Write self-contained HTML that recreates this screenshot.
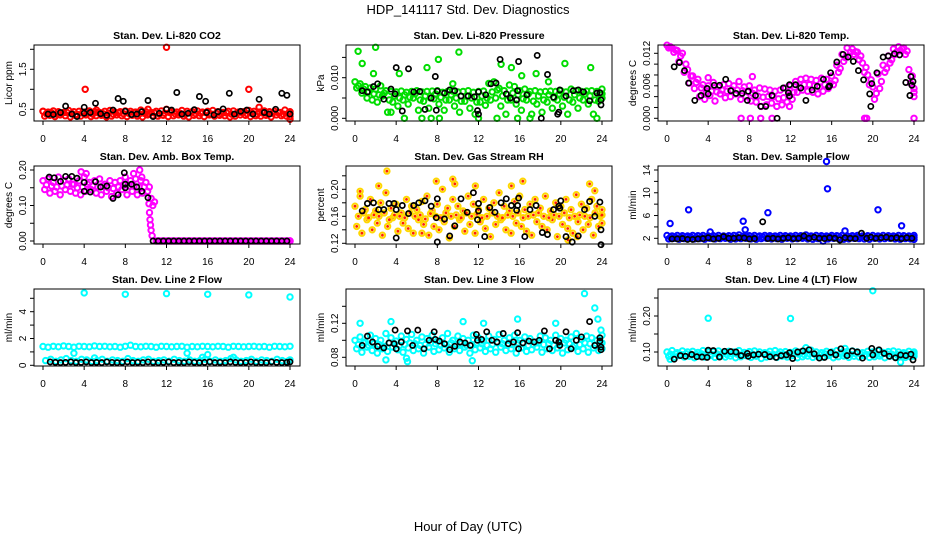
<!DOCTYPE html>
<html><head><meta charset="utf-8"><style>
body{margin:0;background:#fff;}
svg text{font-family:"Liberation Sans",sans-serif;}
</style></head><body>
<svg id="c" width="936" height="540" viewBox="0 0 936 540" xmlns="http://www.w3.org/2000/svg">
<text x="468" y="14" text-anchor="middle" font-size="13">HDP_141117  Std. Dev. Diagnostics</text>
<text x="468" y="531" text-anchor="middle" font-size="13">Hour of Day (UTC)</text>
</svg>
<script>
// ---- data ----
const xTicks = [0,4,8,12,16,20,24];
const titles = ["Stan. Dev. Li-820 CO2","Stan. Dev. Li-820 Pressure","Stan. Dev. Li-820 Temp.","Stan. Dev. Amb. Box Temp.","Stan. Dev. Gas Stream RH","Stan. Dev. Sample Flow","Stan. Dev. Line 2 Flow","Stan. Dev. Line 3 Flow","Stan. Dev. Line 4 (LT) Flow"];
const yTitles = ["Licor ppm","kPa","degrees C","degrees C","percent","ml/min","ml/min","ml/min","ml/min"];
const yTickVals = [[0.5,1,1.5,2],[0,0.005,0.01,0.015],[0,0.002,0.004,0.006,0.008,0.01,0.012],[0,0.05,0.1,0.15,0.2],[0.12,0.14,0.16,0.18,0.2,0.22],[2,4,6,8,10,12,14],[0,1,2,3,4,5],[0.08,0.1,0.12,0.14],[0.1,0.15,0.2,0.25]];
const yTickLabels = [["0.5","","1.5",""],["0.000","","0.010",""],["0.000","","","0.006","","","0.012"],["0.00","","0.10","","0.20"],["0.12","","0.16","","0.20",""],["2","","6","","10","","14"],["0","","2","","4",""],["0.08","","0.12",""],["0.10","","0.20",""]];

// CO2
const co2A=[0.45,0.43,0.46,0.44,0.42,0.47,0.44,0.45,0.43,0.46,0.44,0.42,0.45,0.47,0.43,0.44,0.46,0.45,0.43,0.48,0.44,0.42,0.45,0.46,0.5,0.44,0.43,0.47,0.45,0.44,0.46,0.43,0.45,0.47,0.44,0.42,0.45,0.46,0.43,0.44,0.47,0.45,0.43,0.46,0.44,0.45,0.42,0.48,0.44];
const co2B=[0.33,0.35,0.32,0.36,0.34,0.31,0.35,0.33,0.36,0.32,0.34,0.35,0.31,0.33,0.36,0.34,0.32,0.35,0.33,0.31,0.36,0.34,0.33,0.35,0.32,0.34,0.36,0.33,0.31,0.35,0.34,0.32,0.36,0.33,0.35,0.34,0.31,0.33,0.36,0.35,0.32,0.34,0.33,0.35,0.31,0.36,0.34,0.33,0.32];
const co2C=[0.39,0.41,0.38,0.4,0.42,0.39,0.37,0.41,0.4,0.38,0.42,0.39,0.4,0.38,0.41,0.39,0.4,0.42,0.38,0.4,0.39,0.41,0.38,0.4,0.42,0.39,0.4,0.38,0.41,0.39,0.4,0.42,0.38,0.4,0.39,0.41,0.38,0.4,0.42,0.39,0.4,0.38,0.41,0.39,0.4,0.42,0.38,0.4,0.39];
const co2XH=[0,4.1,12,20,21,24,10.2,5.2];
const co2XV=[0.45,1.0,2.05,1.0,0.55,0.25,0.5,0.48];
const co2KH=[0.5,1,1.7,2.2,2.8,3.3,4,4,4.6,5.1,5.6,6.2,6.8,7.3,7.8,8,8.6,9.1,9.6,10.2,10.7,11.3,12,12.5,13,13.5,14.1,14.7,15.2,15.8,15.9,16.6,17,17.5,18.1,18.6,19.2,19.8,20.4,21,21.5,22,22.6,23.2,23.7,24];
const co2KV=[0.38,0.37,0.42,0.58,0.38,0.32,0.4,0.55,0.42,0.65,0.39,0.35,0.48,0.77,0.7,0.45,0.37,0.38,0.44,0.72,0.32,0.4,0.5,0.48,0.92,0.38,0.4,0.49,0.82,0.7,0.42,0.36,0.44,0.51,0.9,0.38,0.45,0.48,0.38,0.75,0.42,0.38,0.5,0.9,0.85,0.38];
// Pressure
const prA=[0.009,0.0085,0.0078,0.0075,0.0072,0.008,0.0068,0.0066,0.0065,0.0067,0.0064,0.0066,0.0068,0.0065,0.0066,0.0067,0.0068,0.0064,0.0066,0.0067,0.0065,0.0066,0.0068,0.0064,0.0066,0.0067,0.0086,0.009,0.0074,0.0068,0.0082,0.0078,0.0068,0.0072,0.0066,0.0068,0.0065,0.0066,0.0067,0.0066,0.0068,0.0065,0.0072,0.0068,0.0066,0.0067,0.0068,0.0066,0.0072];
const prB=[0.0075,0.0062,0.005,0.0045,0.004,0.0055,0.0015,0.004,0.003,0.0045,0.0035,0.005,0.002,0.0042,0.0025,0.0048,0.0035,0.002,0.0045,0.003,0.0015,0.0042,0.0025,0.001,0.004,0.0032,0.0045,0.005,0.003,0.001,0.0045,0.0035,0.002,0.0045,0.001,0.0035,0.0015,0.004,0.0025,0.0045,0.003,0.001,0.004,0.0025,0.0045,0.0035,0.001,0.0042,0.005];
const prC=[0.008,0.0072,0.0065,0.006,0.0058,0.0062,0.0045,0.0055,0.005,0.0058,0.0052,0.006,0.0045,0.0055,0.005,0.006,0.0052,0.0045,0.0058,0.005,0.0042,0.0055,0.005,0.004,0.0055,0.005,0.0065,0.007,0.0055,0.0045,0.0062,0.0058,0.0048,0.006,0.0042,0.0055,0.0045,0.0058,0.005,0.006,0.0052,0.0045,0.0058,0.005,0.006,0.0055,0.0045,0.0058,0.006];
const prXH=[0.3,0.7,2,4.3,7,8.1,9.5,10.1,14.2,15.2,16.2,17.6,18.8,20.4,22.9,3.5,4.8,6.5,7.4,8.2,12,13.8,15.8,17,23.5,1.8];
const prXV=[0.0165,0.0135,0.0175,0.011,0.0125,0.0145,0.0085,0.0163,0.0133,0.0125,0.0105,0.011,0.009,0.0135,0.0125,0.0015,0,0,0,0,0,0,0,0,0,0.011];
const prKH=[0.7,1.2,1.8,2.2,2.8,3.5,3.9,4,4.6,5.2,5.7,6.3,6.8,7.4,7.8,7.9,8,8.7,9.2,9.7,10.3,11,11.6,11.9,12,12,12.7,13.2,13.7,14.1,14.7,15.1,15.7,15.8,15.9,16.7,17.7,18.1,18.7,19.3,19.7,19.8,19.9,20.5,21.2,21.7,22.2,22.8,23.5,23.8,23.9,23.9];
const prKV=[0.0068,0.0065,0.0078,0.0085,0.0047,0.0072,0.006,0.0125,0.0018,0.0122,0.0065,0.0066,0.0022,0.005,0.0103,0.002,0.0067,0.0062,0.007,0.0068,0.0055,0.0055,0.0053,0.0019,0.001,0.0065,0.0058,0.0085,0.0087,0.0145,0.006,0.005,0.0045,0.0068,0.014,0.0058,0.0155,0,0.0108,0.0052,0.001,0.0015,0.007,0.0055,0.0068,0.007,0.0065,0.0043,0.0062,0.0063,0.0045,0.0033];
// Li-820 Temp
const tmA=[0.0135,0.013,0.0125,0.012,0.009,0.0078,0.0072,0.0062,0.006,0.0066,0.0058,0.0062,0.0064,0.006,0.0068,0.0058,0.006,0.0052,0.0056,0.0054,0.0052,0.005,0.0052,0.0056,0.006,0.0068,0.0072,0.0074,0.0072,0.007,0.0074,0.0072,0.0078,0.0098,0.0118,0.013,0.0128,0.0122,0.0102,0.008,0.0058,0.0082,0.0098,0.0115,0.0128,0.0132,0.013,0.009,0.0055];
const tmB=[0.013,0.0122,0.0105,0.0085,0.0065,0.0055,0.004,0.0035,0.0042,0.0032,0.0045,0.0038,0.004,0.0045,0.0035,0.004,0.0032,0.003,0.0022,0.0025,0.0028,0.0022,0.0025,0.003,0.0035,0.0048,0.0052,0.005,0.0048,0.0045,0.005,0.0055,0.0062,0.0085,0.0105,0.0115,0.0118,0.0108,0.0085,0.0062,0.0035,0.0055,0.0085,0.0102,0.0118,0.0125,0.0118,0.0065,0.004];
const tmC=[0.0132,0.0126,0.0115,0.01,0.0078,0.0066,0.0056,0.0048,0.005,0.0049,0.0052,0.005,0.0052,0.0052,0.0051,0.0049,0.0046,0.0041,0.0039,0.004,0.004,0.0036,0.0038,0.0043,0.0048,0.0058,0.0062,0.0062,0.006,0.0058,0.0062,0.0064,0.007,0.0092,0.0112,0.0122,0.0123,0.0115,0.0094,0.0071,0.0046,0.0068,0.0092,0.0108,0.0123,0.0128,0.0124,0.0078,0.0048];
const tmXH=[7.2,8.1,9.1,10.2,19.2,19.4,24,4,8.3,11.9];
const tmXV=[0,0,0,0,0,0,0,0.0075,0.0077,0.0022];
const tmKH=[0.7,1.2,1.7,2.1,2.7,3.3,3.9,4,4.6,5.1,5.7,6.2,6.7,7.3,7.8,7.9,8.6,9.1,9.6,10.2,10.7,11.3,11.8,11.9,11.9,12.5,13,13.5,14.1,14.6,15.2,15.7,15.8,15.9,16.5,17.1,17.6,18.1,18.6,19.1,19.7,19.8,19.9,20.4,21,21.5,22.1,22.6,23.2,23.6,23.7,23.8,23.9];
const tmKV=[0.0095,0.0103,0.0088,0.0065,0.0033,0.0042,0.0055,0.0045,0.0061,0.0061,0.0072,0.0051,0.0046,0.0046,0.0033,0.005,0.0042,0.0022,0.0022,0.0042,0,0.0056,0.0047,0.0041,0.0062,0.0062,0.0056,0.0033,0.0052,0.0059,0.0072,0.0058,0.006,0.0084,0.0104,0.0118,0.0113,0.0105,0.0088,0.0071,0.0045,0.0022,0.0064,0.0084,0.0113,0.0115,0.0119,0.0117,0.0066,0.0042,0.0077,0.0061,0.0068];
// Amb box temp
const abA=[0.17,0.175,0.165,0.18,0.17,0.175,0.16,0.17,0.18,0.165,0.17,0.175,0.16,0.17,0.165,0.17,0.18,0.17,0.175,0.17,0.165,0.12,0,0,0,0,0,0,0,0,0,0,0,0,0,0,0,0,0,0,0,0,0,0,0,0,0,0,0];
const abB=[0.145,0.135,0.14,0.13,0.145,0.14,0.135,0.13,0.14,0.145,0.135,0.13,0.14,0.125,0.135,0.145,0.13,0.14,0.13,0.135,0.14,0.1,0,0,0,0,0,0,0,0,0,0,0,0,0,0,0,0,0,0,0,0,0,0,0,0,0,0,0];
const abC=[0.158,0.155,0.152,0.155,0.158,0.16,0.15,0.152,0.16,0.155,0.152,0.155,0.15,0.148,0.152,0.158,0.155,0.155,0.152,0.152,0.152,0.11,0,0,0,0,0,0,0,0,0,0,0,0,0,0,0,0,0,0,0,0,0,0,0,0,0,0,0];
const abXH=[10.3,10.35,10.4,10.45,10.5,10.6,9.4,3.7,4.2,8.8,9.6];
const abXV=[0.105,0.08,0.06,0.045,0.03,0.015,0.2,0.195,0.19,0.19,0.18];
const abKH=[0.6,1.1,1.7,2.2,2.8,3.3,4,4,4.6,5.1,5.6,6.2,6.8,7.3,7.9,8,8,8.6,9.1,9.6,10.2,10.7,11.2,11.7,12.2,12.7,13.2,13.7,14.2,14.7,15.2,15.7,16.2,16.7,17.2,17.7,18.2,18.7,19.2,19.7,20.2,20.7,21.2,21.7,22.2,22.7,23.2,23.7];
const abKV=[0.18,0.178,0.168,0.182,0.182,0.177,0.165,0.14,0.138,0.167,0.152,0.155,0.12,0.13,0.192,0.15,0.16,0.16,0.152,0.14,0.122,0,0,0,0,0,0,0,0,0,0,0,0,0,0,0,0,0,0,0,0,0,0,0,0,0,0,0];
// RH
const rhA=[0.175,0.19,0.17,0.185,0.168,0.18,0.195,0.172,0.178,0.165,0.185,0.175,0.17,0.182,0.19,0.168,0.178,0.2,0.172,0.185,0.175,0.168,0.19,0.178,0.17,0.185,0.172,0.18,0.195,0.175,0.168,0.182,0.19,0.17,0.178,0.185,0.172,0.19,0.168,0.18,0.175,0.185,0.17,0.192,0.178,0.172,0.185,0.175,0.17];
const rhB=[0.145,0.135,0.155,0.14,0.15,0.132,0.145,0.158,0.138,0.15,0.142,0.135,0.155,0.148,0.132,0.145,0.14,0.152,0.128,0.145,0.155,0.138,0.148,0.135,0.152,0.142,0.13,0.148,0.155,0.14,0.135,0.15,0.145,0.138,0.132,0.152,0.145,0.14,0.155,0.13,0.148,0.142,0.135,0.152,0.14,0.148,0.132,0.145,0.15];
const rhC=[0.16,0.165,0.158,0.162,0.16,0.165,0.155,0.162,0.16,0.158,0.165,0.16,0.162,0.156,0.164,0.16,0.158,0.165,0.16,0.162,0.158,0.165,0.16,0.163,0.158,0.16,0.165,0.16,0.158,0.162,0.16,0.165,0.158,0.16,0.162,0.165,0.16,0.158,0.162,0.16,0.165,0.158,0.16,0.162,0.16,0.158,0.165,0.16,0.162];
const rhXH=[3.1,2.3,7.9,9.5,9.7,11.7,15.2,16.3,20.7,22.8,23.3,0.5,6.5,21.6];
const rhXV=[0.227,0.205,0.212,0.215,0.208,0.205,0.205,0.212,0.125,0.208,0.198,0.197,0.135,0.13];
const rhKH=[0.7,1.2,1.8,2.3,2.8,3.3,3.8,4,4,4.6,5.2,5.7,6.2,6.8,7.4,7.9,8,8,8.7,9.2,9.7,10.3,10.9,11.5,11.9,12,12,12.6,13.1,13.6,14.2,14.7,15.2,15.7,15.8,15.9,16.5,17,17.6,18.2,18.7,19.3,19.8,19.9,20,20.5,21.1,21.7,22.3,22.8,23.3,23.8,23.9,23.9];
const rhKV=[0.168,0.179,0.18,0.17,0.17,0.179,0.179,0.17,0.128,0.176,0.164,0.176,0.18,0.183,0.175,0.158,0.186,0.122,0.156,0.131,0.146,0.186,0.166,0.195,0.155,0.179,0.168,0.13,0.173,0.166,0.18,0.186,0.176,0.169,0.176,0.187,0.13,0.17,0.176,0.136,0.133,0.17,0.175,0.172,0.183,0.13,0.122,0.131,0.17,0.182,0.16,0.181,0.14,0.118];
// Sample flow
const sfA=[2.5,2.4,2.5,2.45,2.4,2.5,2.45,2.5,2.4,2.45,2.5,2.4,2.45,2.5,2.6,2.4,2.45,2.5,2.4,2.5,2.45,2.4,2.5,2.45,2.4,2.5,2.45,2.6,2.4,2.5,2.45,2.4,2.5,2.45,2.5,2.4,2.45,2.5,2.4,2.45,2.5,2.4,2.5,2.45,2.4,2.5,2.45,2.4,2.5];
const sfB=[1.9,2.0,1.85,1.95,2.0,1.9,1.95,1.85,2.0,1.9,1.95,2.0,1.85,1.9,1.95,2.0,1.9,1.85,1.95,2.0,1.9,1.95,1.85,2.0,1.9,1.95,2.0,1.9,1.85,1.95,1.5,1.9,2.0,1.95,1.85,1.9,2.0,1.95,1.9,1.85,2.0,1.9,1.95,2.0,1.9,1.85,1.95,1.9,1.8];
const sfC=[2.2,2.15,2.2,2.25,2.2,2.15,2.2,2.2,2.25,2.15,2.2,2.2,2.15,2.2,2.25,2.2,2.15,2.2,2.2,2.25,2.2,2.15,2.2,2.2,2.15,2.25,2.2,2.2,2.15,2.2,2.2,2.25,2.2,2.15,2.2,2.2,2.25,2.2,2.15,2.2,2.2,2.15,2.25,2.2,2.2,2.15,2.2,2.2,2.15];
const sfXH=[0.3,2.1,4.2,7.4,7.6,9.8,15.5,15.6,17.3,20.5,22.8];
const sfXV=[4.6,7,3.1,5,3.5,6.5,15.5,10.7,3.3,7,4.2];
const sfKH=[0.5,1,1.5,2,2.5,3,3.5,4,4.5,5,5.5,6,6.5,7,7.5,8,8.5,9.3,9.8,10.3,10.8,11.3,11.8,12.3,12.8,13.3,13.8,14.3,14.8,15.3,15.8,16.3,16.8,17.3,17.8,18.3,18.9,19.4,19.8,20.3,20.8,21.3,21.8,22.3,22.8,23.3,23.8];
const sfKV=[1.9,1.9,1.95,1.8,1.8,1.9,1.95,2.1,1.9,2.0,2.3,2.0,2.0,2.1,2.05,1.9,1.95,4.9,1.95,2.0,1.9,2.0,2.1,1.95,2.0,2.4,2.0,2.2,2.0,1.95,2.1,2.0,1.7,2.1,2.0,1.95,2.9,2.0,2.2,2.0,2.1,2.2,2.0,2.1,1.95,2.1,2.0];
// Line 2
const l2A=[1.4,1.35,1.42,1.38,1.45,1.4,1.35,1.42,1.4,1.38,1.45,1.4,1.42,1.38,1.4,1.35,1.42,1.5,1.4,1.38,1.42,1.4,1.35,1.42,1.4,1.38,1.4,1.42,1.35,1.4,1.38,1.42,1.4,1.38,1.42,1.4,1.35,1.42,1.4,1.38,1.4,1.42,1.38,1.4,1.35,1.42,1.4,1.38,1.42];
const l2B=[0.35,0.45,0.3,0.4,0.5,0.35,0.3,0.45,0.4,0.3,0.35,0.45,0.3,0.4,0.35,0.3,0.5,0.35,0.3,0.4,0.45,0.3,0.35,0.4,0.3,0.45,0.35,0.3,0.4,0.3,0.35,0.45,0.3,0.4,0.3,0.35,0.5,0.4,0.3,0.35,0.45,0.3,0.4,0.35,0.3,0.45,0.35,0.3,0.4];
const l2XH=[4,8,12,16,20,24,3,14,16,5,15.5,18.5];
const l2XV=[5.4,5.3,5.35,5.3,5.25,5.1,0.9,0.9,0.8,0.55,0.6,0.6];
const l2KH=[0.7,1.2,1.7,2.2,2.7,3.2,3.7,4.2,4.7,5.2,5.7,6.2,6.7,7.2,7.7,8.2,8.7,9.2,9.7,10.2,10.7,11.2,11.7,12.2,12.7,13.2,13.7,14.2,14.7,15.2,15.7,16.2,16.7,17.2,17.7,18.2,18.7,19.2,19.7,20.2,20.7,21.2,21.7,22.2,22.7,23.2,23.7,24];
const l2KV=[0.25,0.22,0.2,0.22,0.25,0.2,0.22,0.25,0.2,0.22,0.2,0.25,0.22,0.2,0.22,0.25,0.2,0.22,0.2,0.25,0.22,0.2,0.22,0.25,0.2,0.22,0.2,0.25,0.22,0.2,0.22,0.25,0.2,0.22,0.2,0.25,0.22,0.2,0.22,0.25,0.2,0.22,0.2,0.25,0.22,0.2,0.22,0.25];
// Line 3
const l3A=[0.1,0.104,0.098,0.106,0.102,0.1,0.108,0.103,0.099,0.105,0.101,0.107,0.1,0.104,0.102,0.106,0.099,0.103,0.108,0.1,0.105,0.102,0.1,0.106,0.103,0.099,0.105,0.101,0.107,0.1,0.103,0.106,0.1,0.104,0.102,0.098,0.105,0.103,0.1,0.106,0.102,0.1,0.104,0.108,0.101,0.105,0.103,0.1,0.106];
const l3B=[0.09,0.086,0.092,0.088,0.085,0.09,0.087,0.092,0.089,0.086,0.091,0.088,0.09,0.085,0.092,0.087,0.089,0.091,0.086,0.09,0.088,0.092,0.085,0.089,0.091,0.087,0.09,0.086,0.092,0.088,0.09,0.085,0.091,0.087,0.089,0.092,0.086,0.09,0.088,0.091,0.085,0.089,0.092,0.087,0.09,0.086,0.091,0.088,0.09];
const l3C=[0.095,0.097,0.094,0.096,0.095,0.093,0.097,0.096,0.094,0.095,0.097,0.096,0.094,0.095,0.097,0.096,0.094,0.095,0.097,0.095,0.096,0.094,0.095,0.097,0.096,0.094,0.095,0.097,0.096,0.094,0.095,0.097,0.096,0.094,0.095,0.097,0.095,0.096,0.094,0.095,0.097,0.096,0.094,0.095,0.097,0.096,0.094,0.095,0.097];
const l3XH=[22.3,23.3,23.6,15.8,0.5,3.5,10.5,5.1,11.4,3,5,12.5,19.5,23.9];
const l3XV=[0.155,0.138,0.125,0.125,0.12,0.122,0.122,0.075,0.076,0.077,0.079,0.12,0.12,0.112];
const l3KH=[0.7,1.2,1.7,2.2,2.8,3.3,3.8,3.9,4,4.5,5.1,5.6,6.1,6.7,7.2,7.7,7.8,8.2,8.7,9.2,9.7,10.2,10.7,11.2,11.8,11.9,12.3,12.8,13.3,13.8,14.4,14.9,15.4,15.8,15.9,16.3,16.9,17.4,17.9,18.4,18.9,19.5,19.8,19.9,20.5,21,21.5,22,22.8,23.3,23.8,23.8,23.9,23.9];
const l3KV=[0.094,0.105,0.098,0.093,0.091,0.097,0.096,0.112,0.09,0.098,0.111,0.094,0.112,0.09,0.1,0.11,0.101,0.099,0.096,0.089,0.093,0.098,0.097,0.094,0.107,0.1,0.101,0.11,0.1,0.098,0.108,0.096,0.098,0.109,0.09,0.097,0.099,0.098,0.1,0.111,0.09,0.1,0.098,0.094,0.11,0.09,0.1,0.104,0.122,0.094,0.103,0.099,0.092,0.089];
// Line 4
const l4A=[0.1,0.104,0.098,0.103,0.1,0.102,0.099,0.104,0.1,0.101,0.103,0.098,0.102,0.1,0.104,0.099,0.101,0.103,0.1,0.098,0.102,0.104,0.1,0.101,0.099,0.103,0.1,0.102,0.105,0.1,0.098,0.102,0.1,0.104,0.099,0.101,0.103,0.1,0.098,0.102,0.1,0.104,0.099,0.101,0.103,0.1,0.098,0.102,0.1];
const l4B=[0.088,0.085,0.09,0.086,0.088,0.084,0.089,0.086,0.09,0.085,0.088,0.086,0.089,0.084,0.087,0.09,0.085,0.088,0.082,0.086,0.089,0.085,0.088,0.086,0.09,0.084,0.087,0.089,0.085,0.088,0.086,0.09,0.084,0.087,0.089,0.085,0.088,0.086,0.09,0.085,0.087,0.089,0.084,0.088,0.086,0.089,0.085,0.087,0.088];
const l4C=[0.094,0.095,0.093,0.095,0.094,0.093,0.095,0.094,0.093,0.095,0.094,0.093,0.095,0.094,0.093,0.095,0.094,0.093,0.095,0.094,0.093,0.095,0.094,0.093,0.095,0.094,0.093,0.095,0.094,0.093,0.095,0.094,0.093,0.095,0.094,0.093,0.095,0.094,0.093,0.095,0.094,0.093,0.095,0.094,0.093,0.095,0.094,0.093,0.095];
const l4XH=[4,12,20,22.7,0.3,13.5,17.3];
const l4XV=[0.194,0.193,0.27,0.072,0.08,0.112,0.11];
const l4KH=[0.7,1.3,1.8,2.4,2.9,3.4,3.9,4,4.5,5.1,5.6,6.2,6.7,7.2,7.8,7.9,8.4,8.9,9.5,10,10.6,11.1,11.6,11.9,12.2,12.7,13.2,13.8,14.3,14.8,15.3,15.9,16.4,16.9,17.5,18,18.5,19,19.9,20,20.6,21.1,21.6,22.2,22.7,23.2,23.7,23.9];
const l4KV=[0.08,0.09,0.088,0.093,0.087,0.086,0.085,0.105,0.104,0.086,0.102,0.101,0.1,0.09,0.096,0.088,0.092,0.094,0.093,0.087,0.085,0.09,0.092,0.098,0.082,0.1,0.103,0.106,0.095,0.083,0.085,0.099,0.092,0.109,0.09,0.103,0.1,0.083,0.11,0.092,0.106,0.096,0.088,0.084,0.092,0.09,0.094,0.078];

// ---- layout ----
const NS="http://www.w3.org/2000/svg";
const svg=document.getElementById('c');
const colX=[34,346,658], rowT=[45,166,289], rowH=[76,78,77], W=266;
const yRef=[[0.5,109.3,1.5,69.3],[0,118.3,0.01,77.7],[0,118.3,0.012,53.3],[0,241,0.2,170],[0.12,243.3,0.2,189.3],[2,238.3,14,170],[0,365.3,4,311.7],[0.08,357.3,0.12,323.3],[0.1,352,0.2,316]];
const colors=["#ff0000","#00dd00","#ff00ff","#ff00ff","#ffd700","#0000ff","#00ffff","#00ffff","#00ffff"];
const bands=[[co2A,co2B,co2C],[prA,prB,prC],[tmA,tmB,tmC],[abA,abB,abC],[rhA,rhB,rhC],[sfA,sfB,sfC],[l2A,l2B],[l3A,l3B,l3C],[l4A,l4B,l4C]];
const extraH=[co2XH,prXH,tmXH,abXH,rhXH,sfXH,l2XH,l3XH,l4XH];
const extraV=[co2XV,prXV,tmXV,abXV,rhXV,sfXV,l2XV,l3XV,l4XV];
const blackH=[co2KH,prKH,tmKH,abKH,rhKH,sfKH,l2KH,l3KH,l4KH];
const blackV=[co2KV,prKV,tmKV,abKV,rhKV,sfKV,l2KV,l3KV,l4KV];

function mk(tag,attrs,parent){const e=document.createElementNS(NS,tag);for(const k in attrs)e.setAttribute(k,attrs[k]);parent.appendChild(e);return e;}

for(let p=0;p<9;p++){
  const c=p%3,r=Math.floor(p/3);
  const x0=colX[c],top=rowT[r],bot=top+rowH[r];
  const xS=h=>x0+9+h*(247/24);
  const yr=yRef[p];
  const yS=v=>yr[1]+(v-yr[0])*(yr[3]-yr[1])/(yr[2]-yr[0]);
  const g=mk('g',{},svg);
  
  
  const t=mk('text',{x:x0+W/2,y:top-6,'text-anchor':'middle','font-size':'10.5','font-weight':'bold'},g);
  t.textContent=titles[p];
  
  
  const yt=mk('text',{x:0,y:0,'text-anchor':'middle','font-size':'10',transform:`translate(${x0-22},${(top+bot)/2}) rotate(-90)`},g);
  yt.textContent=yTitles[p];
  
  
  const pts=mk('g',{},g);
  
  
  const drawPt=(h,v,col,parent)=>{
    const cy=yS(v);
    const ci=mk('circle',{cx:xS(h).toFixed(1),cy:cy.toFixed(1),r:2.7,fill:'none',stroke:col,'stroke-width':2},parent);
    
    
    if(p===4){const d=mk('circle',{cx:xS(h).toFixed(1),cy:cy.toFixed(1),r:1.4,fill:'#ff2000'},parent);
      
      }
  };
  const nb=bands[p].length;
  bands[p].forEach((arr,k)=>{const n=arr.length;const st=24/(n-1);arr.forEach((v,i)=>{const h=Math.min(24,i*st+k*st/nb);drawPt(h,v,colors[p],pts);});});
  extraH[p].forEach((h,i)=>drawPt(h,extraV[p][i],colors[p],pts));
  const bk=mk('g',{},g);
  
  
  blackH[p].forEach((h,i)=>{const ci=mk('circle',{cx:xS(h).toFixed(1),cy:yS(blackV[p][i]).toFixed(1),r:2.6,fill:'none',stroke:'#000','stroke-width':1.7},bk);
    
    });
  const box=mk('rect',{x:x0,y:top,width:W,height:rowH[r],fill:'none',stroke:'#000','stroke-width':1},g);
  
  
  xTicks.forEach(h=>{
    const tk=mk('line',{x1:xS(h),x2:xS(h),y1:bot,y2:bot+4,stroke:'#000'},g);
    
    
    const lb=mk('text',{x:xS(h),y:bot+21,'text-anchor':'middle','font-size':'10'},g);
    lb.textContent=h;
    
    
  });
  yTickVals[p].forEach((v,i)=>{
    const y=yS(v);
    const tk=mk('line',{x1:x0-4,x2:x0,y1:y,y2:y,stroke:'#000'},g);
    
    
    if(yTickLabels[p][i]){
      const lb=mk('text',{x:0,y:0,'text-anchor':'middle','font-size':'10',transform:`translate(${x0-8},${y}) rotate(-90)`},g);
      lb.textContent=yTickLabels[p][i];
      
      
    }
  });
}
</script>
</body></html>
